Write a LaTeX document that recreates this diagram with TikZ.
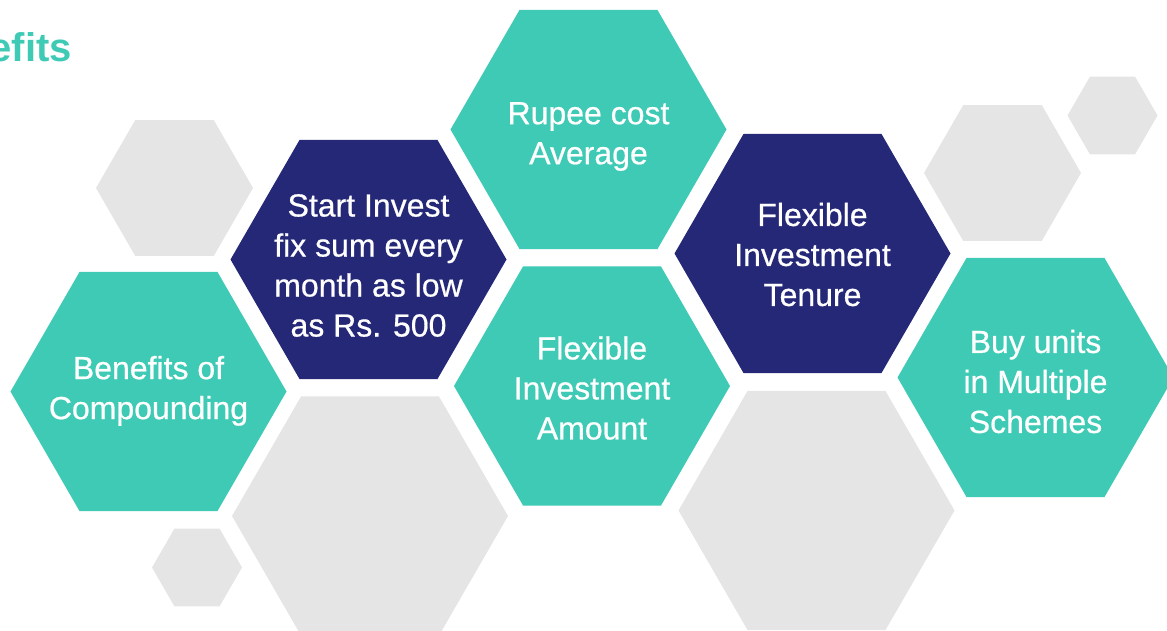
\documentclass[tikz,border=0pt]{standalone}
\usepackage{fontspec}
\setmainfont{Liberation Sans}
\newfontfamily\mediumfont{Liberation Sans}[FakeBold=0.6]
\usepackage{tikz}
\usetikzlibrary{shapes}

\definecolor{hexteal}{RGB}{62,202,181}
\definecolor{hexnavy}{RGB}{36,40,119}
\definecolor{hexgray}{RGB}{229,229,229}

\begin{document}
\begin{tikzpicture}[x=0.75pt,y=-0.75pt]
\useasboundingbox (0,0) rectangle (1167,631);
\clip (0,0) rectangle (1167,631);

\node[anchor=base east, inner sep=0, text=hexteal, font=\bfseries\fontsize{30}{36}\selectfont] (title) at (72,62) {Benefits};

\begin{scope}[every node/.style={regular polygon, regular polygon sides=6, inner sep=0, outer sep=0, fill=hexgray}]
  \node[minimum size=117.75pt] (G1) at (174.5,188) {};
  \node[minimum size=67.5pt] (G2) at (197,567.5) {};
  \node[minimum size=207pt] (G3) at (370,516) {};
  \node[minimum size=207pt] (G4) at (816.5,510.5) {};
  \node[minimum size=117.75pt] (G5) at (1002.5,173) {};
  \node[minimum size=67.5pt] (G6) at (1112.5,115.5) {};
\end{scope}

\begin{scope}[every node/.style={regular polygon, regular polygon sides=6, inner sep=0, outer sep=0, minimum size=207pt}]
  \node[fill=hexteal] (A) at (148.5,391.5) {};
    \node[fill=hexnavy] (B) at (368.5,259.5) {};
    \node[fill=hexteal] (C) at (588.5,129.5) {};
    \node[fill=hexteal] (D) at (592,386) {};
    \node[fill=hexnavy] (E) at (812.5,253.5) {};
    \node[fill=hexteal] (F) at (1035.5,377.5) {};
\end{scope}

\begin{scope}[every node/.style={text=white, align=center, inner sep=0, font=\mediumfont\fontsize{24}{30}\selectfont}]
  \node (tA) at ([yshift=0.5pt]A) {Benefits of\\Compounding};
    \node (tB) at ([yshift=-4.5pt]B) {Start Invest\\fix sum every\\month as low\\as Rs. 500};
    \node (tC) at ([yshift=-5.25pt]C) {Rupee cost\\Average};
    \node (tD) at ([yshift=-1.5pt]D) {Flexible\\Investment\\Amount};
    \node (tE) at ([yshift=-0.75pt]E) {Flexible\\Investment\\Tenure};
    \node (tF) at ([yshift=-3pt]F) {Buy units\\in Multiple\\Schemes};
\end{scope}
\end{tikzpicture}
\end{document}
